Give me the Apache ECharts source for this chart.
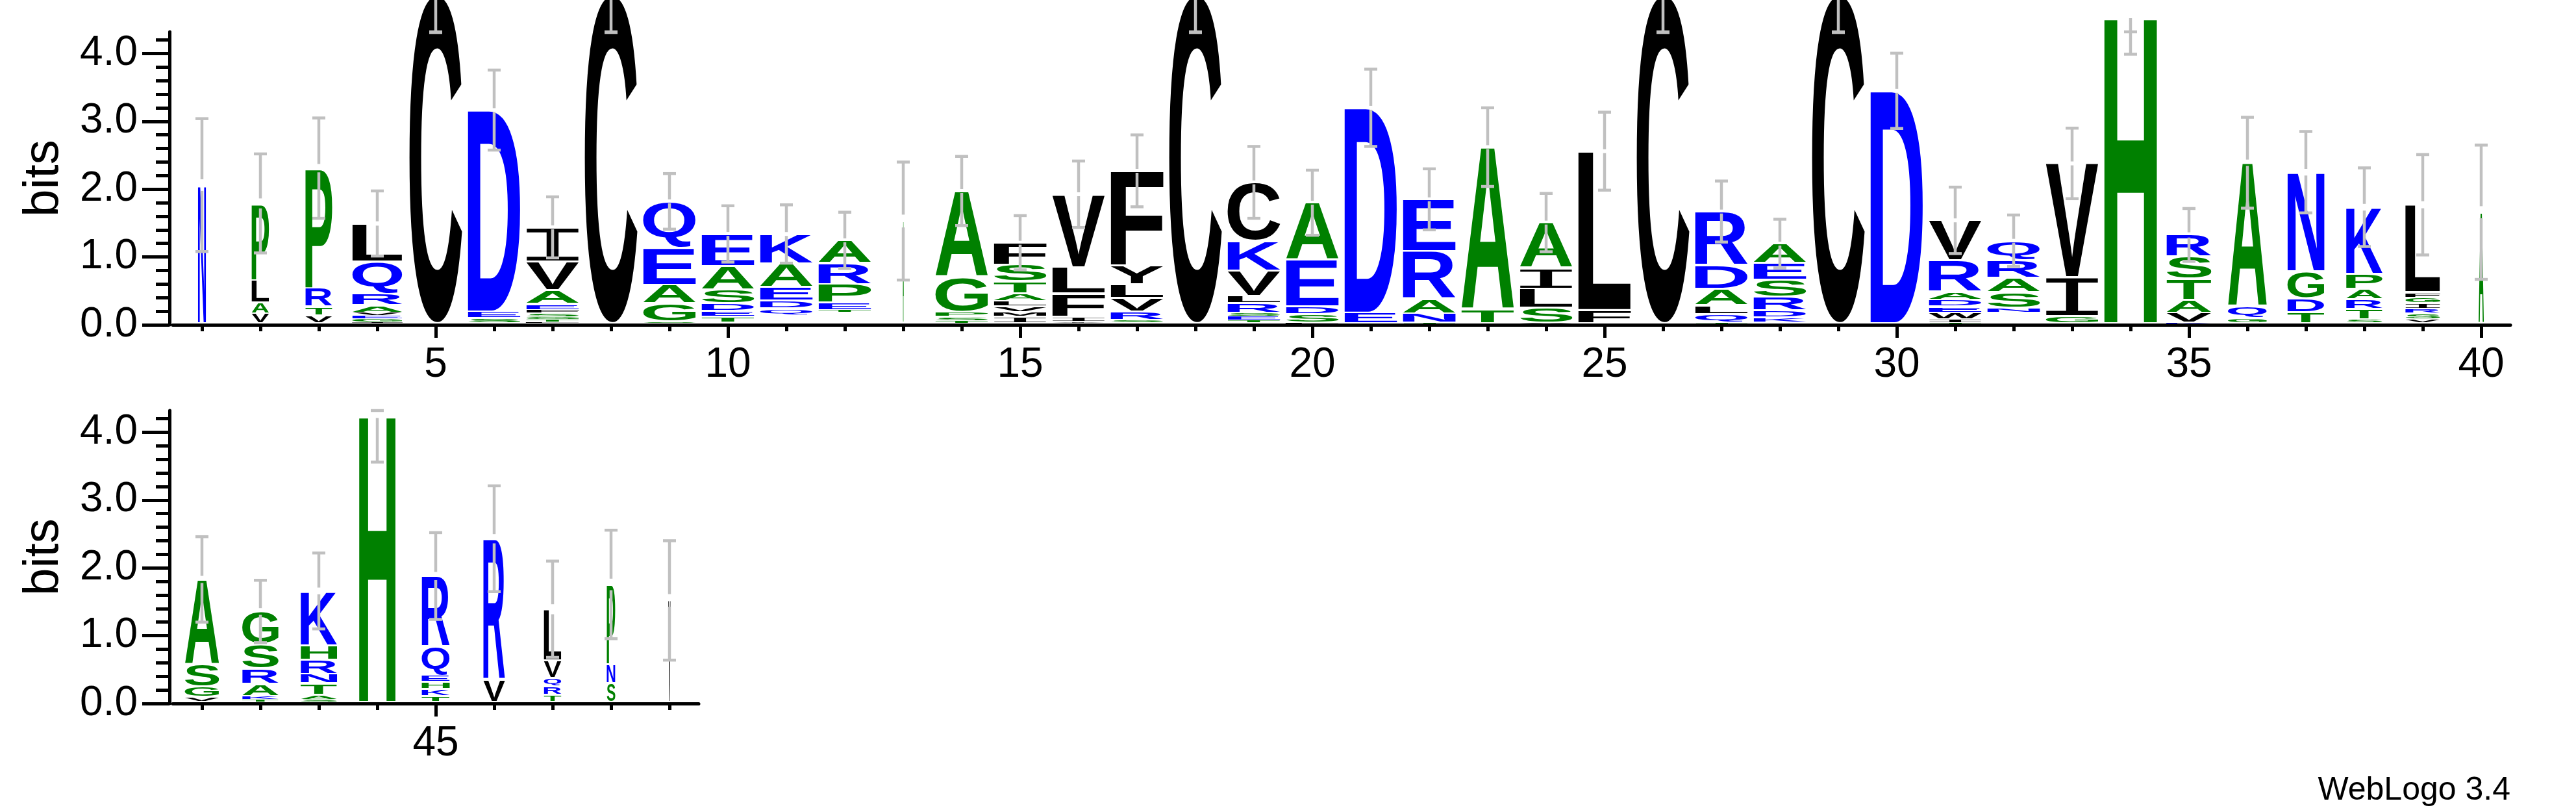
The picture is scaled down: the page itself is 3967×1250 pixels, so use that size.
<!DOCTYPE html>
<html>
<head>
<meta charset="utf-8">
<script src="https://cdn.jsdelivr.net/npm/echarts@6.0.0/dist/echarts.min.js"></script>
<style>
  html, body { margin: 0; padding: 0; background: #fff; }
  #logo { width: 3967px; height: 1250px; }
</style>
</head>
<body>
<div id="logo"></div>
<script>
  // sequence positions, one stack each
  const positions = [1, 2, 3, 4, 5, 6, 7, 8, 9, 10,
    11, 12, 13, 14, 15, 16, 17, 18, 19, 20,
    21, 22, 23, 24, 25, 26, 27, 28, 29, 30,
    31, 32, 33, 34, 35, 36, 37, 38, 39, 40,
    41, 42, 43, 44, 45, 46, 47, 48, 49]

  // letters of each stack, bottom to top ('.' = empty space)
  const stackLetters = ['N', 'VALP', 'VTRP', 'IGEVARQL', 'C', 'SED', 'LTGSFEAVI', 'C', 'SGAEQ', '.TEDSAE',
    '.QDEAK', '.TEPRA', 'A', 'TSPGA', 'IMVLATSF', 'YIFLV', 'SRVLYF', 'C', 'TESRLVKC', 'LSDEA',
    'ED', 'TNARE', 'TA', 'VSLIA', 'FL', 'C', 'TQLADR', '.KDRSEA', 'C', 'D',
    'TIWEDARV', '.NSARQ', 'GIV', 'H', 'KVATSR', 'GQA', 'TDGN', 'STRAPK', 'VSRIGFL', 'A',
    'VGSA', 'TKARSG', 'SATNRHK', 'H', 'TKHEQR', 'VR', 'TRQVL', 'SNP', 'V']

  // height in bits of each letter, same order
  const stackHeights = [
    [2.06],
    [0.17, 0.16, 0.33, 1.13],
    [0.14, 0.13, 0.27, 1.77],
    [0.045, 0.045, 0.045, 0.045, 0.107, 0.17, 0.478, 0.559],
    [4.87],
    [0.096, 0.10, 2.97],
    [0.04, 0.04, 0.04, 0.05, 0.05, 0.093, 0.198, 0.421, 0.505],
    [4.87],
    [0.05, 0.269, 0.271, 0.543, 0.687],
    [0.04, 0.078, 0.086, 0.115, 0.201, 0.348, 0.472],
    [0.15, 0.09, 0.118, 0.2, 0.351, 0.43],
    [0.19, 0.03, 0.11, 0.27, 0.31, 0.335],
    [1.53],
    [0.06, 0.06, 0.07, 0.513, 1.27],
    [0.122, 0.07, 0.08, 0.078, 0.11, 0.18, 0.25, 0.32],
    [0.05, 0.07, 0.34, 0.39, 1.075],
    [0.07, 0.13, 0.2, 0.2, 0.272, 1.398],
    [4.87],
    [0.07, 0.06, 0.05, 0.14, 0.11, 0.37, 0.44, 0.86],
    [0.03, 0.13, 0.11, 0.69, 0.84],
    [0.18, 3.02],
    [0.03, 0.14, 0.21, 0.71, 0.76],
    [0.224, 2.396],
    [0.03, 0.225, 0.281, 0.304, 0.667],
    [0.217, 2.343],
    [4.87],
    [0.03, 0.13, 0.13, 0.24, 0.35, 0.79],
    [0.04, 0.07, 0.10, 0.205, 0.255, 0.246, 0.281],
    [4.87],
    [3.45],
    [0.03, 0.05, 0.10, 0.09, 0.10, 0.12, 0.46, 0.59],
    [0.185, 0.07, 0.225, 0.216, 0.262, 0.281],
    [0.128, 0.572, 1.68],
    [4.55],
    [0.03, 0.15, 0.187, 0.313, 0.326, 0.319],
    [0.10, 0.17, 2.12],
    [0.19, 0.203, 0.396, 1.461],
    [0.08, 0.15, 0.144, 0.156, 0.22, 0.984],
    [0.08, 0.09, 0.07, 0.08, 0.085, 0.075, 1.29],
    [1.66],
    [0.096, 0.153, 0.335, 1.246],
    [0.06, 0.05, 0.18, 0.23, 0.36, 0.477],
    [0.06, 0.068, 0.169, 0.14, 0.211, 0.214, 0.798],
    [4.26],
    [0.11, 0.104, 0.106, 0.095, 0.425, 1.04],
    [0.35, 2.08],
    [0.128, 0.128, 0.121, 0.263, 0.75],
    [0.30, 0.28, 1.176],
    [1.52]
  ]

  // relative stack width (fraction of non-gap sequences)
  const stackWidths = [0.15, 0.33, 0.51, 0.95, 1, 1, 1, 1, 1, 1,
    1, 1, 0.02, 1, 1, 1, 1, 1, 1, 1,
    1, 1, 1, 1, 1, 1, 1, 1, 1, 1,
    1, 1, 1, 1, 0.85, 0.74, 0.70, 0.69, 0.66, 0.10,
    0.65, 0.69, 0.69, 0.69, 0.53, 0.41, 0.33, 0.16, 0.04]

  // error bar half length in bits
  const errorBars = [0.98, 0.73, 0.74, 0.48, 0.56, 0.59, 0.45, 0.56, 0.41, 0.415,
    0.43, 0.415, 0.87, 0.51, 0.40, 0.49, 0.53, 0.56, 0.53, 0.48,
    0.57, 0.45, 0.58, 0.43, 0.575, 0.56, 0.45, 0.36, 0.56, 0.555,
    0.49, 0.38, 0.52, 0.56, 0.39, 0.67, 0.60, 0.58, 0.74, 0.99,
    0.63, 0.46, 0.56, 0.70, 0.64, 0.78, 0.71, 0.80, 0.88]

  // ticks
  const yMajorTicks = [0, 1, 2, 3, 4]
  const yMinorTicks = [0.2, 0.4, 0.6, 0.8, 1.2, 1.4, 1.6, 1.8, 2.2, 2.4, 2.6, 2.8,
    3.2, 3.4, 3.6, 3.8, 4.2]
  const topXTicks = [1, 2, 3, 4, 5, 6, 7, 8, 9, 10, 11, 12, 13, 14, 15, 16, 17, 18, 19, 20,
    21, 22, 23, 24, 25, 26, 27, 28, 29, 30, 31, 32, 33, 34, 35, 36, 37, 38, 39, 40]
  const topXLabels = [5, 10, 15, 20, 25, 30, 35, 40]
  const bottomXTicks = [41, 42, 43, 44, 45, 46, 47, 48, 49]
  const bottomXLabels = [45]

  const YMAX = 4.32
  const FONT = 'bold 200px "Liberation Sans"'
  // the I needs serifs to read as a letter once stretched
  const FONT_I = '200px "Liberation Mono"'
  const fontOf = function (ch) { return ch === 'I' ? FONT_I : FONT }
  const colorOf = function (ch) {
    if ('RKDENQ'.indexOf(ch) >= 0) return '#0000ff'
    if ('SGHTAP'.indexOf(ch) >= 0) return '#008000'
    return '#000000'
  }

  // glyph bounds, measured once per letter
  const measureCtx = document.createElement('canvas').getContext('2d')
  const metricCache = {}
  function glyph(ch) {
    if (!metricCache[ch]) {
      measureCtx.font = fontOf(ch)
      measureCtx.textAlign = 'center'
      measureCtx.textBaseline = 'middle'
      const m = measureCtx.measureText(ch)
      metricCache[ch] = {
        l: m.actualBoundingBoxLeft,
        r: m.actualBoundingBoxRight,
        a: m.actualBoundingBoxAscent,
        d: m.actualBoundingBoxDescent
      }
    }
    return metricCache[ch]
  }

  // flatten stacks into letter boxes and error bars
  const letterChars = []
  function buildLetters(first, last) {
    const out = []
    positions.forEach(function (p, i) {
      if (p < first || p > last) return
      let base = 0
      stackHeights[i].forEach(function (h, k) {
        const ch = stackLetters[i][k]
        if (ch !== '.') {
          letterChars.push(ch)
          out.push([p, base, base + h, stackWidths[i], letterChars.length - 1])
        }
        base += h
      })
    })
    return out
  }
  function buildErrors(first, last) {
    const out = []
    positions.forEach(function (p, i) {
      if (p < first || p > last) return
      const top = stackHeights[i].reduce(function (s, h) { return s + h }, 0)
      out.push([p, top, errorBars[i], stackWidths[i]])
    })
    return out
  }

  function renderLetter(params, api) {
    const x = api.value(0)
    const y0 = api.value(1)
    const y1 = api.value(2)
    const w = api.value(3)
    const ch = letterChars[api.value(4)]
    const half = 0.45 * w
    const p0 = api.coord([x - half, y1])
    const p1 = api.coord([x + half, y0])
    const h = p1[1] - p0[1]
    const pad = Math.min(1.5, h * 0.15)
    const top = p0[1] + pad
    const bot = p1[1] - pad - (y0 === 0 ? 2.5 : 0)
    const m = glyph(ch)
    const sx = (p1[0] - p0[0]) / (m.l + m.r)
    const sy = Math.max(bot - top, 0.6) / (m.a + m.d)
    return {
      type: 'text',
      x: p0[0] + m.l * sx,
      y: top + m.a * sy,
      scaleX: sx,
      scaleY: sy,
      silent: true,
      style: {
        text: ch,
        font: fontOf(ch),
        fill: colorOf(ch),
        align: 'center',
        verticalAlign: 'middle',
        textAlign: 'center',
        textVerticalAlign: 'middle'
      }
    }
  }

  function renderError(params, api) {
    const x = api.value(0)
    const top = api.value(1)
    const err = api.value(2)
    const w = api.value(3)
    const c = api.coord([x, top])
    const lo = api.coord([x, top - err])
    const up = api.coord([x, Math.min(top + err, YMAX)])
    const gap = 3 + 7 * (1 - w)
    const st = { stroke: '#c0c0c0', lineWidth: 4.5 }
    const kids = []
    if (lo[1] > c[1] + gap) {
      kids.push({ type: 'line', shape: { x1: c[0], y1: c[1] + gap, x2: c[0], y2: lo[1] }, style: st })
    }
    kids.push({ type: 'line', shape: { x1: c[0] - 10, y1: lo[1], x2: c[0] + 10, y2: lo[1] }, style: st })
    if (up[1] < c[1] - gap) {
      kids.push({ type: 'line', shape: { x1: c[0], y1: c[1] - gap, x2: c[0], y2: up[1] }, style: st })
    }
    kids.push({ type: 'line', shape: { x1: c[0] - 10, y1: up[1], x2: c[0] + 10, y2: up[1] }, style: st })
    return { type: 'group', silent: true, children: kids }
  }

  const axisFont = { fontFamily: 'Liberation Sans', fontSize: 64, color: '#000' }
  const black5 = { color: '#000', width: 5 }

  function xAxes(grid, min, max, ticks, labels) {
    return [{
      type: 'value', gridIndex: grid, position: 'bottom', min: min, max: max,
      axisLine: { show: true, lineStyle: black5 },
      axisTick: { show: true, customValues: ticks, length: 10, lineStyle: black5 },
      axisLabel: { show: false },
      splitLine: { show: false }
    }, {
      type: 'value', gridIndex: grid, position: 'bottom', min: min, max: max,
      axisLine: { show: false },
      axisTick: { show: true, customValues: labels, length: 20, lineStyle: black5 },
      axisLabel: Object.assign({ show: true, customValues: labels, margin: 30 }, axisFont),
      splitLine: { show: false }
    }]
  }
  function yAxes(grid) {
    return [{
      type: 'value', gridIndex: grid, position: 'left', offset: 5, min: 0, max: YMAX,
      name: 'bits', nameLocation: 'middle', nameGap: 155,
      nameTextStyle: { fontFamily: 'Liberation Sans', fontSize: 76, color: '#000' },
      axisLine: { show: true, lineStyle: black5 },
      axisTick: { show: true, customValues: yMajorTicks, length: 42, lineStyle: black5 },
      axisLabel: Object.assign({
        show: true, customValues: yMajorTicks, margin: 49,
        formatter: function (v) { return v.toFixed(1) }
      }, axisFont),
      splitLine: { show: false }
    }, {
      type: 'value', gridIndex: grid, position: 'left', offset: 5, min: 0, max: YMAX,
      axisLine: { show: false },
      axisTick: { show: true, customValues: yMinorTicks, length: 21, lineStyle: black5 },
      axisLabel: { show: false },
      splitLine: { show: false }
    }]
  }

  const chart = echarts.init(document.getElementById('logo'), null, { renderer: 'canvas' })

  chart.setOption({
    backgroundColor: '#fff',
    animation: false,
    grid: [
      { left: 266, top: 49, width: 3600, height: 451 },
      { left: 266, top: 632, width: 810, height: 451 }
    ],
    xAxis: xAxes(0, 0.5, 40.5, topXTicks, topXLabels).concat(xAxes(1, 40.5, 49.5, bottomXTicks, bottomXLabels)),
    yAxis: yAxes(0).concat(yAxes(1)),
    graphic: [{
      type: 'text', right: 101, top: 1192,
      style: { text: 'WebLogo 3.4', font: '50px "Liberation Sans"', fill: '#000' }
    }],
    series: [
      {
        type: 'custom', xAxisIndex: 0, yAxisIndex: 0, clip: false, z: 2,
        renderItem: renderLetter, data: buildLetters(1, 40)
      },
      {
        type: 'custom', xAxisIndex: 2, yAxisIndex: 2, clip: false, z: 2,
        renderItem: renderLetter, data: buildLetters(41, 49)
      },
      {
        type: 'custom', xAxisIndex: 0, yAxisIndex: 0, clip: false, z: 3,
        renderItem: renderError, data: buildErrors(1, 40)
      },
      {
        type: 'custom', xAxisIndex: 2, yAxisIndex: 2, clip: false, z: 3,
        renderItem: renderError, data: buildErrors(41, 49)
      }
    ]
  })
</script>
</body>
</html>
